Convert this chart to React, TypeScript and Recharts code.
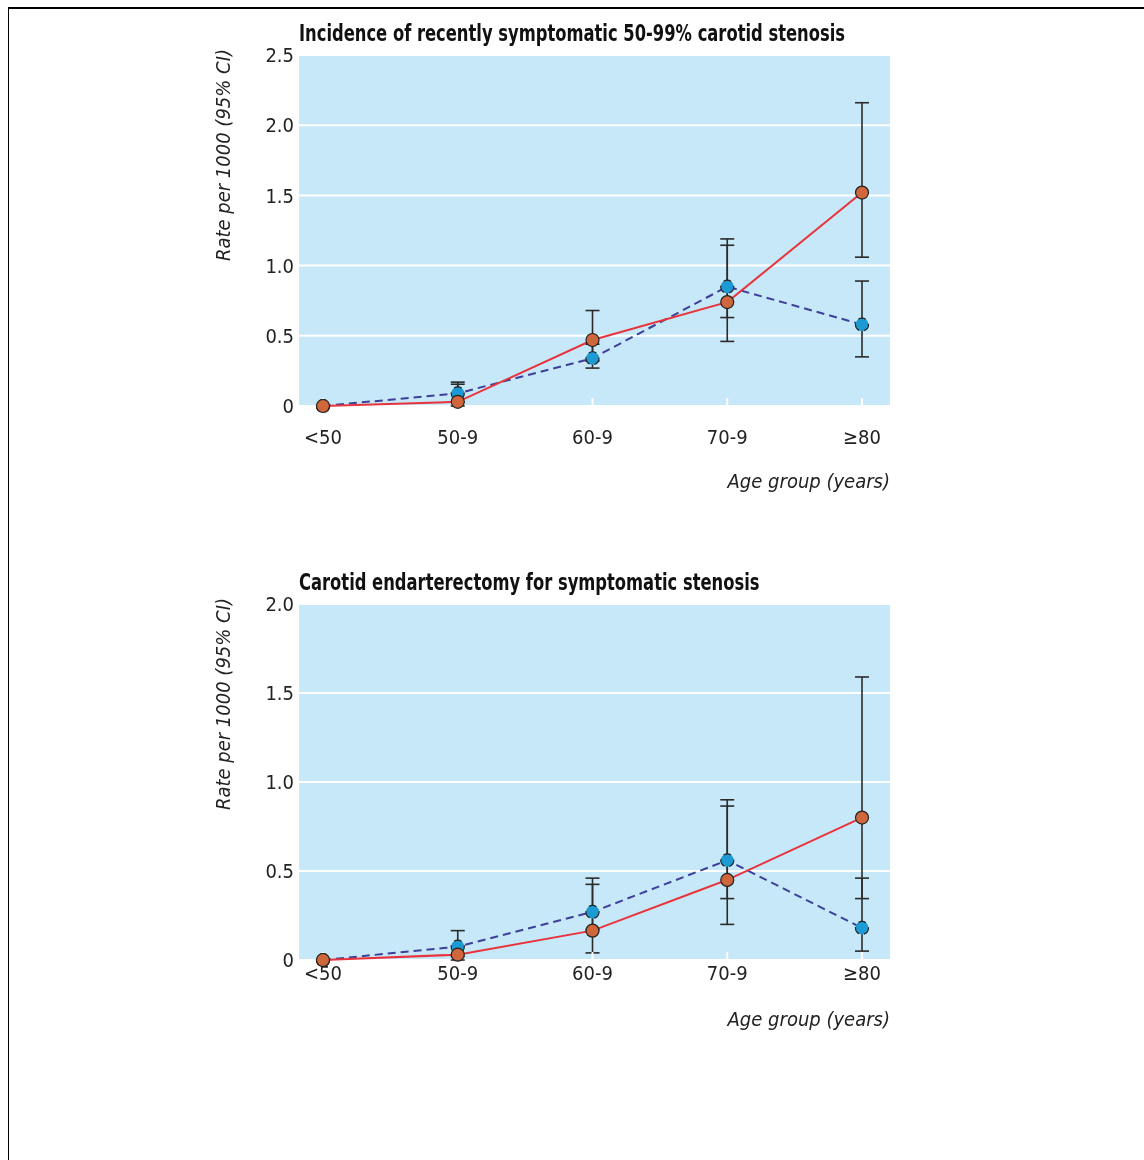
import React from 'react';
import { LineChart, Line, XAxis, YAxis, CartesianGrid, ErrorBar } from 'recharts';

const ageGroups = ['<50', '50-9', '60-9', '70-9', '≥80'];

// Incidence of recently symptomatic 50-99% stenosis (rate per 1000, 95% CI)
const incidenceA = [0, 0.09, 0.34, 0.85, 0.58];
const incidenceALow = [0, 0.03, 0.27, 0.63, 0.35];
const incidenceAHigh = [0, 0.17, 0.44, 1.19, 0.89];
const incidenceB = [0, 0.03, 0.47, 0.74, 1.52];
const incidenceBLow = [0, 0, 0.32, 0.46, 1.06];
const incidenceBHigh = [0, 0.155, 0.68, 1.145, 2.16];

// Carotid endarterectomy for symptomatic stenosis (rate per 1000, 95% CI)
const surgeryA = [0, 0.075, 0.27, 0.56, 0.18];
const surgeryALow = [0, 0.02, 0.17, 0.345, 0.05];
const surgeryAHigh = [0, 0.165, 0.46, 0.9, 0.46];
const surgeryB = [0, 0.03, 0.165, 0.45, 0.8];
const surgeryBLow = [0, 0, 0.04, 0.2, 0.345];
const surgeryBHigh = [0, 0.08, 0.425, 0.865, 1.59];

const incidenceTicks = [0, 0.5, 1, 1.5, 2, 2.5];
const surgeryTicks = [0, 0.5, 1, 1.5, 2];

const FONT = "'Liberation Sans Narrow', 'DejaVu Sans Condensed', 'Arial Narrow', sans-serif";

function buildRows(
  a: number[], aLo: number[], aHi: number[],
  b: number[], bLo: number[], bHi: number[],
) {
  return ageGroups.map((age, i) => ({
    age,
    a: a[i],
    aErr: [a[i] - aLo[i], aHi[i] - a[i]],
    b: b[i],
    bErr: [b[i] - bLo[i], bHi[i] - b[i]],
  }));
}

const incidenceRows = buildRows(incidenceA, incidenceALow, incidenceAHigh, incidenceB, incidenceBLow, incidenceBHigh);
const surgeryRows = buildRows(surgeryA, surgeryALow, surgeryAHigh, surgeryB, surgeryBLow, surgeryBHigh);

interface PanelProps {
  title: string;
  rows: any[];
  ticks: number[];
  height: number;
  left: number;
  top: number;
  tickGap: number;
  xLabelDrop: number;
}

function Panel({ title, rows, ticks, height, left, top, tickGap, xLabelDrop }: PanelProps) {
  const yLabel = (props: any) => {
    const { x, y } = props.viewBox;
    const lx = x - 19;
    const ly = y - 6;
    return (
      <text x={lx} y={ly} transform={`rotate(-90 ${lx} ${ly})`} textAnchor="end"
        fontFamily={FONT} fontSize={20} fontStyle="italic" fill="#222">
        Rate per 1000 (95% CI)
      </text>
    );
  };

  const xLabel = (props: any) => {
    const { x, y, width } = props.viewBox;
    return (
      <text x={x + width} y={y + xLabelDrop} textAnchor="end"
        fontFamily={FONT} fontSize={20} fontStyle="italic" fill="#222">
        Age group (years)
      </text>
    );
  };

  return (
    <div style={{ position: 'absolute', left, top, width: 720, height }}>
      <div style={{
        position: 'absolute', left: 109, top: 12, fontFamily: FONT, fontSize: 23,
        fontWeight: 'bold', lineHeight: 1, color: '#111', whiteSpace: 'nowrap',
        transform: 'scaleX(0.79)', transformOrigin: 'left top',
      }}>
        {title}
      </div>
      <LineChart width={720} height={height} data={rows}
        margin={{ top: 45, right: 20, bottom: 14, left: 59 }}>
        <CartesianGrid vertical={false} fill="#c7e8f8" fillOpacity={1} stroke="#ffffff" strokeWidth={2} />
        <XAxis dataKey="age" height={90} padding={{ left: 24, right: 28 }} interval={0}
          axisLine={false} tickSize={-8} tickLine={{ stroke: '#ffffff', strokeWidth: 2 }}
          tickMargin={tickGap + 8}
          tick={{ fill: '#222', fontSize: 20, fontFamily: FONT }}
          label={xLabel} />
        <YAxis type="number" domain={[0, ticks[ticks.length - 1]]} ticks={ticks} width={50}
          axisLine={false} tickLine={false} tickSize={0} tickMargin={5}
          tickFormatter={(v: number) => (v === 0 ? '0' : v.toFixed(1))}
          tick={{ fill: '#222', fontSize: 20, fontFamily: FONT }}
          label={yLabel} />
        {/* dashed blue series */}
        <Line type="linear" dataKey="a" stroke="#3d3f98" strokeWidth={2} strokeDasharray="8 5"
          dot={{ r: 6.5, fill: '#1c9ad4', stroke: '#222', strokeWidth: 1.2, fillOpacity: 1 }}
          activeDot={false} isAnimationActive={false}>
          <ErrorBar dataKey="aErr" direction="y" width={7} stroke="#2b2b2b" strokeWidth={1.6} />
        </Line>
        {/* solid red series */}
        <Line type="linear" dataKey="b" stroke="#e8333c" strokeWidth={2}
          dot={{ r: 6.5, fill: '#d0663c', stroke: '#222', strokeWidth: 1.2, fillOpacity: 1 }}
          activeDot={false} isAnimationActive={false}>
          <ErrorBar dataKey="bErr" direction="y" width={7} stroke="#2b2b2b" strokeWidth={1.6} />
        </Line>
      </LineChart>
    </div>
  );
}

export default function App() {
  return (
    <div style={{ position: 'relative', height: 1140 }}>
      <div style={{
        position: 'fixed', left: 8, top: 7, right: 0, bottom: 0,
        borderTop: '2px solid #000', borderLeft: '1px solid #000',
      }} />
      <Panel title="Incidence of recently symptomatic 50-99% carotid stenosis"
        rows={incidenceRows} ticks={incidenceTicks} height={500}
        left={182} top={2} tickGap={24} xLabelDrop={82} />
      <Panel title="Carotid endarterectomy for symptomatic stenosis"
        rows={surgeryRows} ticks={surgeryTicks} height={505}
        left={182} top={551} tickGap={6} xLabelDrop={66} />
    </div>
  );
}
